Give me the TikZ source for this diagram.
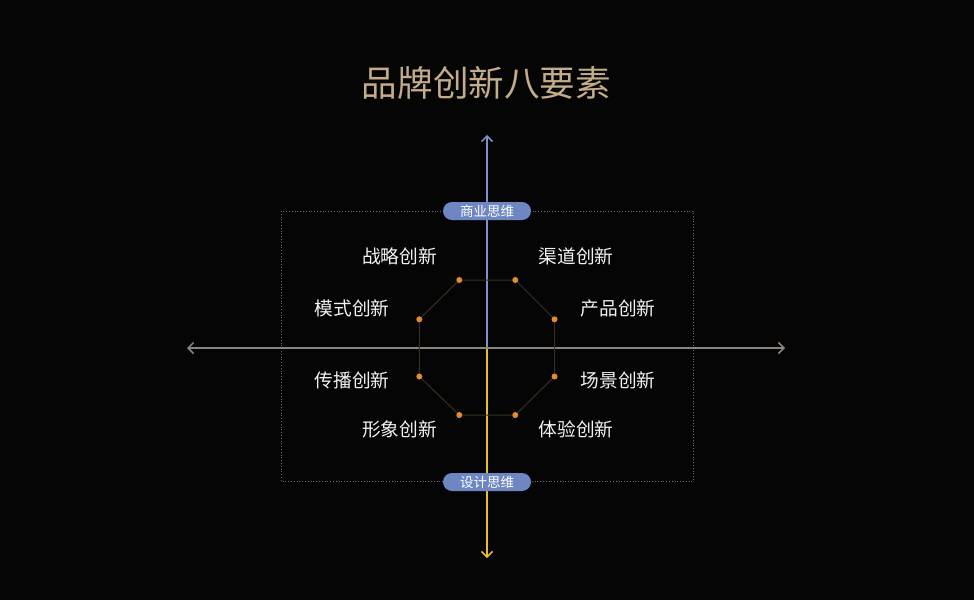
\documentclass[tikz,border=0pt]{standalone}
\usepackage{fontspec}
\newfontfamily\cjk{Noto Sans CJK SC}
\usetikzlibrary{arrows.meta}
\definecolor{bg}{HTML}{050505}
\definecolor{titlec}{HTML}{C2AC8A}
\definecolor{axisblue}{HTML}{7F93C8}
\definecolor{axisyellow}{HTML}{E8C02E}
\definecolor{axisgray}{HTML}{8C847E}
\definecolor{pillc}{HTML}{6E87C2}
\definecolor{octc}{HTML}{3A2E20}
\definecolor{dotc}{HTML}{E58B2C}
\definecolor{framec}{HTML}{6A6A6A}
\definecolor{labelc}{HTML}{F2F2F2}
\tikzset{
  tip/.style={-{Straight Barb[length=5.5pt,width=11pt]}},
  axisline/.style={line width=1.5pt, tip},
  pill/.style={fill=pillc, rounded corners=9pt, minimum width=88pt, minimum height=18pt, inner sep=0pt, text=white, font=\cjk\fontsize{13.5}{14}\selectfont},
  lbl/.style={text=labelc, font=\cjk\fontsize{18.7}{20}\selectfont, inner sep=0pt},
  dotnode/.style={circle, fill=dotc, inner sep=0pt, minimum size=6pt},
  octline/.style={draw=octc, line width=1pt},
  frame/.style={draw=framec, line width=0.8pt, dotted}
}
\begin{document}
\begin{tikzpicture}[x=1pt,y=-1pt]
\fill[bg] (0,0) rectangle (974,600);
\useasboundingbox (0,0) rectangle (974,600);

\node[text=titlec, font=\cjk\fontsize{35.6}{40}\selectfont, inner sep=0pt] (title) at (486.5,83) {品牌创新八要素};

% frame
\draw[frame] (281,211) rectangle (693,481);

% axes
\coordinate (O) at (487,348);
\coordinate (top) at (487,135);
\coordinate (bot) at (487,558);
\coordinate (lft) at (187,348);
\coordinate (rgt) at (785,348);
\draw[axisline, draw=axisblue] (O) -- (top);
\draw[axisline, draw=axisyellow] (O) -- (bot);
\draw[axisline, draw=axisgray] (O) -- (lft);
\draw[axisline, draw=axisgray] (O) -- (rgt);

% octagon
\coordinate (c1) at (459.3,280);
\coordinate (c2) at (515.3,280);
\coordinate (c3) at (554.5,319.3);
\coordinate (c4) at (554.5,376.5);
\coordinate (c5) at (515.3,415);
\coordinate (c6) at (459.3,415);
\coordinate (c7) at (419.3,376.5);
\coordinate (c8) at (419.3,319.3);
\draw[octline] (c1) -- (c2) -- (c3) -- (c4) -- (c5) -- (c6) -- (c7) -- (c8) -- cycle;
\foreach \i in {1,...,8} { \node[dotnode] (d\i) at (c\i) {}; }

% pills
\node[pill] (biz) at (487,211) {商业思维};
\node[pill] (des) at (487,482) {设计思维};

% labels
\node[lbl] (l1) at (399.5,256) {战略创新};
\node[lbl] (l2) at (576,256) {渠道创新};
\node[lbl] (l3) at (352,308) {模式创新};
\node[lbl] (l4) at (618,308) {产品创新};
\node[lbl] (l5) at (352,380) {传播创新};
\node[lbl] (l6) at (618,380) {场景创新};
\node[lbl] (l7) at (399.5,429) {形象创新};
\node[lbl] (l8) at (576,429) {体验创新};
\end{tikzpicture}
\end{document}
